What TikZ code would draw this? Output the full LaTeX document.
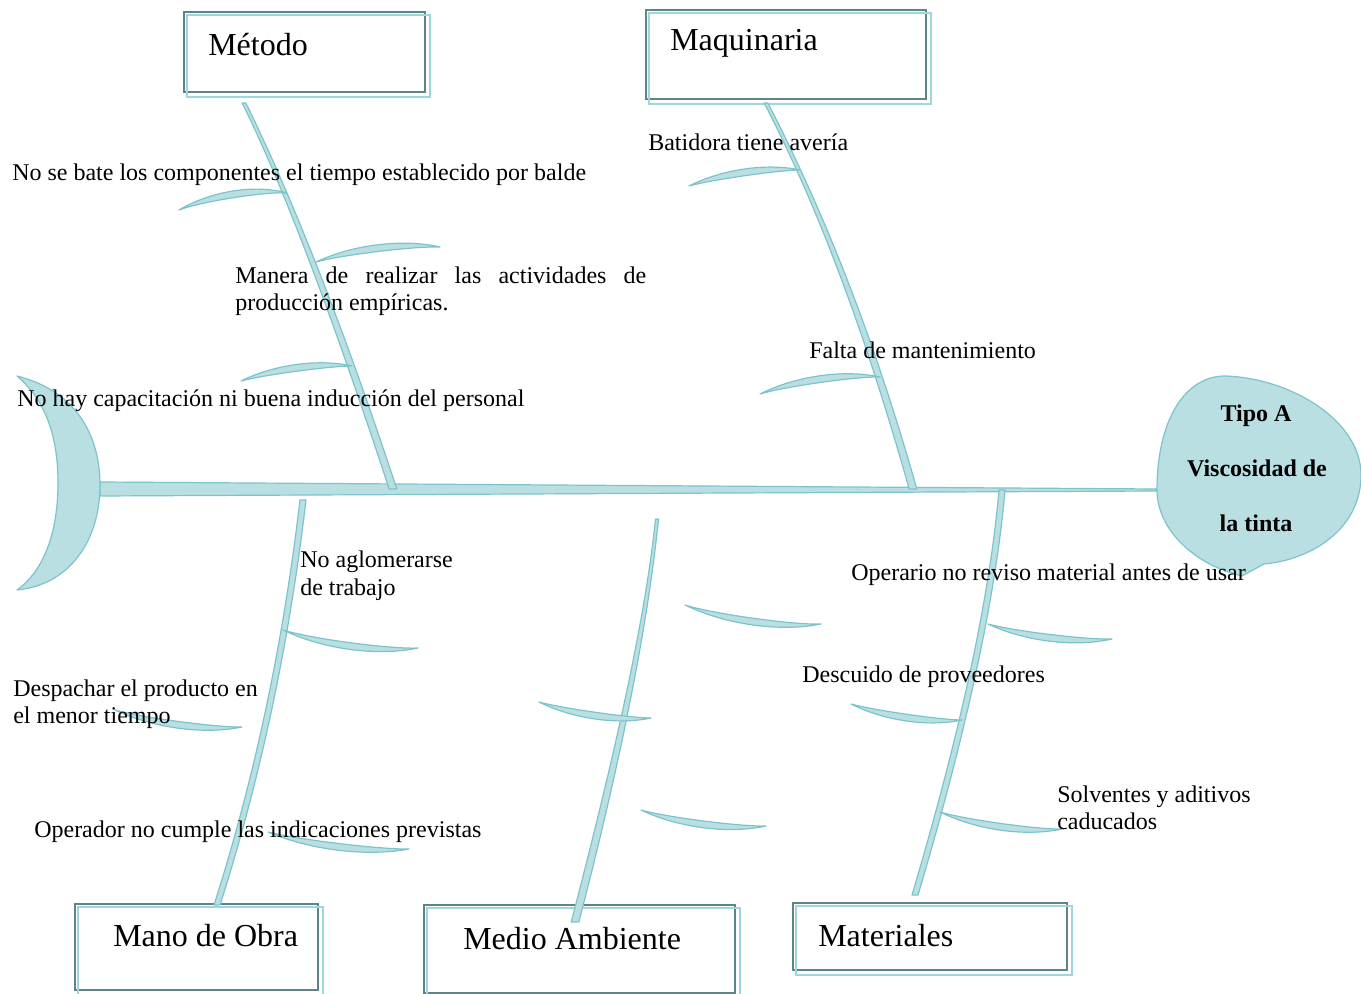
\documentclass[tikz,border=0pt]{standalone}
\usepackage{fontspec}
\setmainfont{Liberation Serif}
\usetikzlibrary{calc,fit}

\definecolor{bonefill}{HTML}{B9DFE3}
\definecolor{boneline}{HTML}{7DC4CA}
\definecolor{boxdark}{HTML}{5E8486}
\definecolor{boxlight}{HTML}{9FD6DB}

\tikzset{
  bone/.style={fill=bonefill, draw=boneline, line width=0.9pt, line join=round},
  catframe/.style={draw=boxdark, line width=1.3pt, inner sep=0pt},
  catshadow/.style={draw=boxlight, line width=1.6pt},
  cattitle/.style={font=\fontsize{24}{28}\selectfont, anchor=base west, inner sep=0pt},
  cause/.style={font=\fontsize{18}{21}\selectfont, anchor=base west, inner sep=0pt},
  headtext/.style={font=\fontsize{18}{21}\selectfont\bfseries, anchor=base, inner sep=0pt},
}

% curved side rib: ends #1,#2; outer bulge #3, inner bulge #4
\newcommand\ribbone[4]{%
  \path[bone] (#1) .. controls ($(#1)!0.3!(#2)+(0,#3)$) and ($(#1)!0.7!(#2)+(0,#3)$) .. (#2)
    .. controls ($(#1)!0.8!(#2)+(0,#4)$) and ($(#1)!0.2!(#2)+(0,#4)$) .. (#1) -- cycle;}

% tapered main bone: start #1, controls #2 #3, end #4, half widths #5 (start) #6 (end)
\newcommand\mainbone[6]{%
  \path[bone] ($(#1)+(-#5,0)$) .. controls ($(#2)+(-#5,0)$) and ($(#3)+(-#6,0)$) .. ($(#4)+(-#6,0)$)
    -- ($(#4)+(#6,0)$) .. controls ($(#3)+(#6,0)$) and ($(#2)+(#5,0)$) .. ($(#1)+(#5,0)$) -- cycle;}

% category box: name, corners, title, title baseline position
\newcommand\catbox[5]{%
  \node[catframe, fit={(#2) (#3)}] (#1) {};
  \draw[catshadow] ($(#1.north west)+(4,4)$) rectangle ($(#1.south east)+(4,4)$);
  \node[cattitle] (#1-title) at (#5) {#4};}

\begin{document}
\begin{tikzpicture}[x=0.75pt,y=-0.75pt]
\useasboundingbox (0,0) rectangle (1361,994);

% spine
\path[bone] (100,482) -- (1157,489) -- (1157,491) -- (100,496) -- cycle;

% tail
\path[bone] (17,376) .. controls (80,392) and (100,440) .. (100,485)
  .. controls (100,540) and (70,585) .. (17,590)
  .. controls (45,570) and (58,530) .. (58,483)
  .. controls (58,435) and (45,400) .. (17,376) -- cycle;

% head
\path[bone] (1157,490) .. controls (1157,420) and (1185,376) .. (1225,376)
  .. controls (1290,378) and (1361,420) .. (1361,475)
  .. controls (1361,530) and (1310,560) .. (1264,564) -- (1242,576)
  .. controls (1195,565) and (1157,530) .. (1157,490) -- cycle;

% category boxes
\catbox{metodo}{184,12}{425,92}{Método}{208,56}
\catbox{maquinaria}{646,10}{926,99}{Maquinaria}{670,51}
\catbox{manoobra}{75,904}{318,990}{Mano de Obra}{113,946}
\catbox{medio}{424,905}{735,993}{Medio Ambiente}{463,949}
\catbox{materiales}{793,903}{1067,970}{Materiales}{818,946}

% main bones
\mainbone{244,103}{286,188}{336,316}{393,489}{1.8}{3.8}
\mainbone{766,103}{822,211}{871,340}{913,489}{1.8}{3.8}
\mainbone{303,500}{286,645}{257,780}{217,905}{3}{3}
\mainbone{657,519}{647.5,614}{620.5,748}{575,922}{1.5}{3.8}
\mainbone{1002,490}{993,595}{964,730}{915,895}{3}{3}

% side ribs
\ribbone{179,210}{287,193}{-14}{-5}
\ribbone{316,262}{440,247}{-13}{-4}
\ribbone{241,381}{352,366}{-12}{-3}
\ribbone{689,186}{800,170}{-12}{-3}
\ribbone{760,394}{880,377}{-13}{-4}
\ribbone{283,630}{418,648}{14}{5}
\ribbone{115,710}{242,727}{13}{4}
\ribbone{268,832}{409,849}{13}{4}
\ribbone{685,605}{821,624}{14}{5}
\ribbone{539,702}{651,718}{12}{3}
\ribbone{641,810}{766,826}{13}{4}
\ribbone{988,624}{1112,639}{13}{4}
\ribbone{851,704}{962,720}{12}{3}
\ribbone{940,812}{1062,829}{13}{4}

% causes
\node[cause] (c1) at (12,181) {No se bate los componentes el tiempo establecido por balde};
\node[cause] (c2a) at (235,284) {\makebox[308.25pt][s]{Manera de realizar las actividades de}};
\node[cause] (c2b) at (235,311) {producción empíricas.};
\node[cause] (c3) at (17,407) {No hay capacitación ni buena inducción del personal};
\node[cause] (c4) at (648,151) {Batidora tiene avería};
\node[cause] (c5) at (809,359) {Falta de mantenimiento};
\node[cause] (c6a) at (300,568) {No aglomerarse};
\node[cause] (c6b) at (300,596) {de trabajo};
\node[cause] (c7a) at (13,696) {Despachar el producto en};
\node[cause] (c7b) at (13,724) {el menor tiempo};
\node[cause] (c8) at (34,837) {Operador no cumple las indicaciones previstas};
\node[cause] (c9) at (851,581) {Operario no reviso material antes de usar};
\node[cause] (c10) at (802,682) {Descuido de proveedores};
\node[cause] (c11a) at (1057,802) {Solventes y aditivos};
\node[cause] (c11b) at (1057,829) {caducados};

% effect
\node[headtext] (e1) at (1256,422) {Tipo A};
\node[headtext] (e2) at (1257,477) {Viscosidad de};
\node[headtext] (e3) at (1256,532) {la tinta};
\end{tikzpicture}
\end{document}
